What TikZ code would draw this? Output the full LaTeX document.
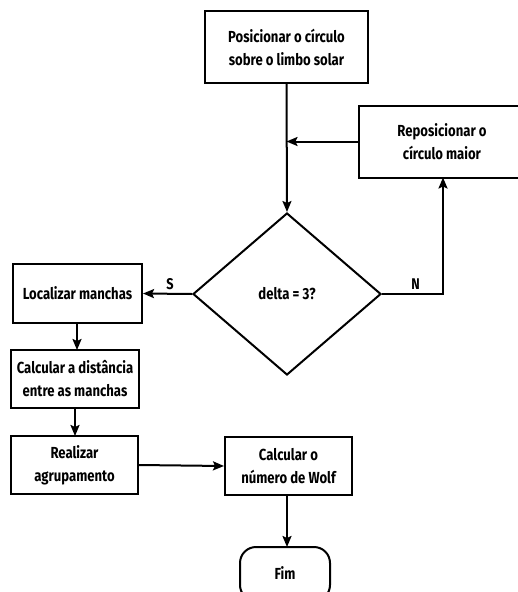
\documentclass[tikz,border=0pt]{standalone}
\usepackage{fontspec}
\setmainfont{Fira Sans}[FakeStretch=0.82]
\usetikzlibrary{arrows.meta,shapes.geometric}
\begin{document}
\begin{tikzpicture}[x=1pt,y=-1pt,
  line width=2pt,
  font=\bfseries\fontsize{16}{23}\selectfont,
  box/.style={draw,rectangle,align=center,inner sep=0pt},
  arr/.style={-{Stealth[length=11pt,width=9pt,inset=2pt]}},
  lbl/.style={font=\bfseries\fontsize{15.5}{17}\selectfont}]
\useasboundingbox (0,0) rectangle (518,592);
\clip (0,0) rectangle (518,592);
\node[box,minimum width=163pt,minimum height=72pt] (pos) at (286.5,47) {Posicionar o círculo\\sobre o limbo solar};
\node[box,minimum width=166pt,minimum height=72pt] (rep) at (442,141.5) {Reposicionar o\\círculo maior};
\node[draw,diamond,aspect=1.16,minimum width=188pt,minimum height=162pt,inner sep=0pt] (dec) at (287,294) {delta = 3?};
\node[box,minimum width=129pt,minimum height=59pt] (loc) at (77.5,293.5) {Localizar manchas};
\node[box,minimum width=128pt,minimum height=58pt] (dist) at (75,379) {Calcular a distância\\entre as manchas};
\node[box,minimum width=127pt,minimum height=58pt] (agr) at (74.5,465) {Realizar\\agrupamento};
\node[box,minimum width=127pt,minimum height=58pt] (wolf) at (288.5,466) {Calcular o\\número de Wolf};
\node[draw,rounded corners=16pt,minimum width=90pt,minimum height=54pt,inner sep=0pt] (fim) at (285,574) {};
\node at (285,573) {Fim};
\coordinate (j) at (pos.south |- rep.west);
\draw[arr] (pos.south) -- (dec.north);
\draw[arr] (rep.west) -- (j);
\draw[arr] (dec.east) -- (443,294) node[lbl,pos=0.55,above] {N} -- (443,177.5);
\draw[arr] (dec.west) -- (loc.east) node[lbl,pos=0.45,above] {S};
\draw[arr] (loc.south -| 77,0) -- (77,350);
\draw[arr] (75,408) -- (75,436);
\draw[arr] (agr.east) -- (wolf.west);
\draw[arr] (wolf.south -| 287,0) -- (287,547);
\end{tikzpicture}
\end{document}
